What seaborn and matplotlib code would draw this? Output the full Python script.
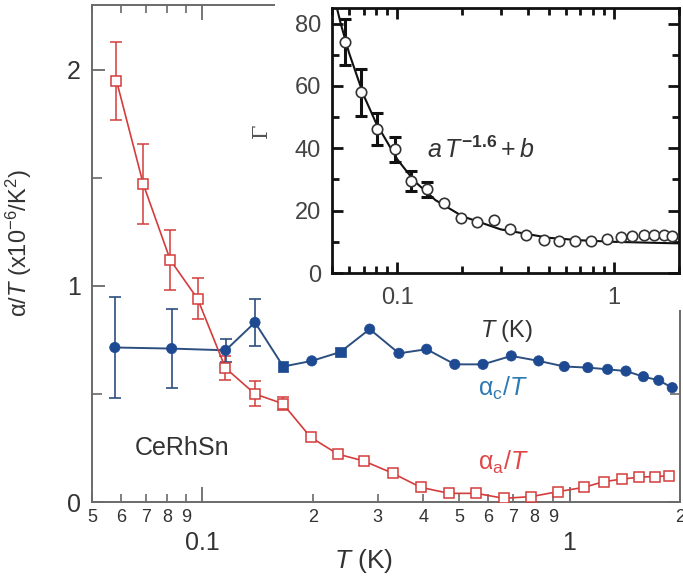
import matplotlib
matplotlib.use("Agg")
import matplotlib.pyplot as plt
import pandas as pd
import seaborn as sns
from matplotlib.ticker import FixedLocator, FixedFormatter, NullFormatter
from matplotlib.patches import Rectangle

# ---- alpha_a / T (open squares) ----
T_a = [0.0583, 0.069, 0.0817, 0.097, 0.1155, 0.139, 0.1655, 0.197, 0.2335, 0.275,
       0.330, 0.393, 0.470, 0.557, 0.663, 0.787, 0.931, 1.096, 1.238, 1.39, 1.55,
       1.71, 1.87]
alpha_a = [1.95, 1.47, 1.12, 0.94, 0.62, 0.50, 0.455, 0.30, 0.222, 0.19, 0.133,
           0.068, 0.04, 0.04, 0.017, 0.025, 0.048, 0.068, 0.094, 0.106, 0.115,
           0.118, 0.121]
alpha_a_err = [0.18, 0.185, 0.14, 0.095, 0.056, 0.058, 0.03]

# ---- alpha_c / T (filled symbols) ----
T_c = [0.0577, 0.0824, 0.1156, 0.139, 0.166, 0.1985, 0.2375, 0.2855, 0.343, 0.408,
       0.487, 0.581, 0.694, 0.824, 0.968, 1.122, 1.27, 1.425, 1.59, 1.75, 1.905]
alpha_c = [0.715, 0.71, 0.702, 0.831, 0.627, 0.653, 0.694, 0.80, 0.688, 0.707,
           0.637, 0.637, 0.676, 0.653, 0.627, 0.622, 0.614, 0.606, 0.580, 0.563,
           0.529]
alpha_c_err = [0.233, 0.182, 0.052, 0.11]
alpha_c_shape = ["o", "o", "o", "o", "s", "o", "s"] + ["o"] * 14

# ---- inset: Grueneisen ratio ----
T_g = [0.0577, 0.0683, 0.0809, 0.0975, 0.1152, 0.1376, 0.164, 0.196, 0.234, 0.279,
       0.331, 0.395, 0.475, 0.557, 0.659, 0.787, 0.933, 1.074, 1.216, 1.375, 1.53,
       1.70, 1.86]
gamma = [74.1, 58.0, 46.1, 39.7, 29.5, 26.8, 22.5, 17.6, 16.2, 16.9, 14.0, 12.3,
         10.6, 10.4, 10.4, 10.2, 11.0, 11.6, 12.0, 12.3, 12.3, 12.3, 12.0]
gamma_err = [7.3, 7.5, 5.2, 4.0, 3.2, 2.5]

# fitted curve a*T^-1.6 + b, sampled
T_fit = [0.05, 0.055, 0.06, 0.07, 0.08, 0.1, 0.12, 0.15, 0.2, 0.3, 0.5, 0.7, 1.0,
         1.5, 2.0]
gamma_fit = [91.4, 79.7, 70.5, 57.0, 48.0, 36.5, 29.5, 23.4, 18.2, 14.0, 11.3,
             10.5, 10.0, 9.7, 9.5]

major_T = [0.1, 1]
major_T_labels = ["0.1", "1"]
minor_T = [0.05, 0.06, 0.07, 0.08, 0.09, 0.2, 0.3, 0.4, 0.5, 0.6, 0.7, 0.8, 0.9, 2]
minor_T_labels = ["5", "6", "7", "8", "9", "2", "3", "4", "5", "6", "7", "8", "9", "2"]

RED = "#d43c3c"
BLUE = "#1e4a92"
BLUE_LINE = "#2d4f80"
LABEL_BLUE = "#2f7ab2"
LABEL_RED = "#e04848"
TXT = "#333333"
FRAME = "#6a6a6a"

sns.set_style("ticks")
plt.rcParams["font.family"] = ["Liberation Sans", "DejaVu Sans"]
plt.rcParams["mathtext.fontset"] = "custom"
plt.rcParams["mathtext.rm"] = "Liberation Sans"
plt.rcParams["mathtext.it"] = "Liberation Sans:italic"
plt.rcParams["mathtext.bf"] = "Liberation Sans:bold"

W, H = 683, 584
fig = plt.figure(figsize=(W / 100, H / 100), dpi=100)
fig.patch.set_facecolor("white")

# ---------------- main panel ----------------
ax = fig.add_axes([92 / W, 1 - 502 / H, 588 / W, 497 / H])
ax.set_zorder(0)

df_a = pd.DataFrame({"T": T_a, "val": alpha_a})
df_c = pd.DataFrame({"T": T_c, "val": alpha_c, "shape": alpha_c_shape})

ax.errorbar(T_a[:len(alpha_a_err)], alpha_a[:len(alpha_a_err)], yerr=alpha_a_err,
            fmt="none", ecolor=RED, elinewidth=1.1, capsize=4.3, capthick=1.1,
            zorder=2)
ax.errorbar(T_c[:len(alpha_c_err)], alpha_c[:len(alpha_c_err)], yerr=alpha_c_err,
            fmt="none", ecolor=BLUE_LINE, elinewidth=1.2, capsize=4.3, capthick=1.2,
            zorder=2)

sns.lineplot(data=df_c, x="T", y="val", ax=ax, color=BLUE_LINE, linewidth=1.4,
             sort=False, estimator=None, zorder=3)
sns.scatterplot(data=df_c, x="T", y="val", style="shape",
                markers={"o": "o", "s": "s"}, ax=ax, color=BLUE, s=55,
                edgecolor=BLUE, linewidth=0.5, legend=False, zorder=4)
sns.lineplot(data=df_a, x="T", y="val", ax=ax, color=RED, linewidth=1.2,
             marker="s", markersize=7, markerfacecolor="white",
             markeredgecolor=RED, markeredgewidth=1.1, sort=False,
             estimator=None, zorder=5)

ax.set_xscale("log")
ax.set_xlim(0.05, 2.0)
ax.set_ylim(0, 2.30)

ax.xaxis.set_major_locator(FixedLocator(major_T))
ax.xaxis.set_major_formatter(FixedFormatter(major_T_labels))
ax.xaxis.set_minor_locator(FixedLocator(minor_T))
ax.xaxis.set_minor_formatter(FixedFormatter(minor_T_labels))
ax.yaxis.set_major_locator(FixedLocator([0, 1, 2]))
ax.yaxis.set_major_formatter(FixedFormatter(["0", "1", "2"]))
ax.yaxis.set_minor_locator(FixedLocator([0.5, 1.5]))
ax.yaxis.set_minor_formatter(NullFormatter())

ax.tick_params(axis="x", which="major", direction="in", length=11, width=1.3,
               pad=21, labelsize=18, top=True, color=FRAME, labelcolor=TXT)
ax.tick_params(axis="x", which="minor", direction="in", length=6, width=1.2,
               pad=5, labelsize=13, top=True, color=FRAME, labelcolor=TXT)
ax.tick_params(axis="y", which="major", direction="in", length=9, width=1.3,
               pad=8, labelsize=18, right=True, color=FRAME, labelcolor=TXT)
ax.tick_params(axis="y", which="minor", direction="in", length=7, width=1.2,
               right=True, color=FRAME)
for sp in ax.spines.values():
    sp.set_color(FRAME)
    sp.set_linewidth(1.4)

ax.set_xlabel("$T$ (K)", fontsize=19, color=TXT)
ax.xaxis.set_label_coords((364 - 92) / 588, (502 - 547) / 497)
ax.set_ylabel("α/$T$ (x10$^{-6}$/K$^{2}$)", fontsize=17, color=TXT)
ax.yaxis.set_label_coords((34 - 92) / 588, 0.52)

ax.text((182 - 92) / 588, (502 - 448) / 497, "CeRhSn", transform=ax.transAxes,
        ha="center", va="center", fontsize=18, color=TXT)
ax.text((478 - 92) / 588, (502 - 388) / 497, "α$_{\\rm c}$/$T$",
        transform=ax.transAxes, ha="left", va="center", fontsize=18,
        color=LABEL_BLUE)
ax.text((478 - 92) / 588, (502 - 462) / 497, "α$_{\\rm a}$/$T$",
        transform=ax.transAxes, ha="left", va="center", fontsize=18,
        color=LABEL_RED)

# white backing behind the inset and its labels
fig.patches.append(Rectangle((275 / W, 1 - 310 / H), 1, 1,
                             transform=fig.transFigure, facecolor="white",
                             edgecolor="none", zorder=0.5))

# ---------------- inset ----------------
axi = fig.add_axes([332 / W, 1 - 273 / H, 347 / W, 265 / H])
axi.set_zorder(1)
axi.set_facecolor("white")

df_fit = pd.DataFrame({"T": T_fit, "g": gamma_fit})
df_g = pd.DataFrame({"T": T_g, "g": gamma})

sns.lineplot(data=df_fit, x="T", y="g", ax=axi, color="#111111", linewidth=1.5,
             sort=False, estimator=None, zorder=2)
axi.errorbar(T_g[:len(gamma_err)], gamma[:len(gamma_err)], yerr=gamma_err,
             fmt="none", ecolor="#111111", elinewidth=2.2, capsize=4.5,
             capthick=2.2, zorder=3)
sns.lineplot(data=df_g, x="T", y="g", ax=axi, linestyle="none", marker="o",
             markersize=7.5, markerfacecolor="white", markeredgecolor="#333333",
             markeredgewidth=1.2, sort=False, estimator=None, zorder=4)

axi.set_xscale("log")
axi.set_xlim(0.05, 2.0)
axi.set_ylim(0, 85)
axi.xaxis.set_major_locator(FixedLocator(major_T))
axi.xaxis.set_major_formatter(FixedFormatter(major_T_labels))
axi.xaxis.set_minor_locator(FixedLocator(minor_T))
axi.xaxis.set_minor_formatter(NullFormatter())
axi.yaxis.set_major_locator(FixedLocator([0, 20, 40, 60, 80]))
axi.yaxis.set_major_formatter(FixedFormatter(["0", "20", "40", "60", "80"]))
axi.yaxis.set_minor_locator(FixedLocator([10, 30, 50, 70]))
axi.yaxis.set_minor_formatter(NullFormatter())

axi.tick_params(which="major", direction="in", length=8, width=2.0,
                top=True, right=True, color="#111111", labelsize=17,
                labelcolor="#444444")
axi.tick_params(which="minor", direction="in", length=5, width=2.0,
                top=True, right=True, color="#111111")
axi.tick_params(axis="x", which="major", pad=10)
axi.tick_params(axis="y", which="major", pad=8)
for sp in axi.spines.values():
    sp.set_color("#111111")
    sp.set_linewidth(2.0)

axi.set_xlabel("$T$ (K)", fontsize=17, color=TXT)
axi.xaxis.set_label_coords((507 - 332) / 347, (273 - 318) / 265)
axi.set_ylabel("")
axi.text((427 - 332) / 347, (273 - 150) / 265, r"$a\,T^{\mathbf{-1.6}}+b$",
         transform=axi.transAxes, ha="left", va="center", fontsize=18,
         color=TXT)
fig.text(261 / W, 1 - 131 / H, "Γ", rotation=90, ha="center", va="center",
         fontsize=15, color="#555555", family=["DejaVu Serif"])

fig.savefig("out.png", dpi=100, facecolor="white")
